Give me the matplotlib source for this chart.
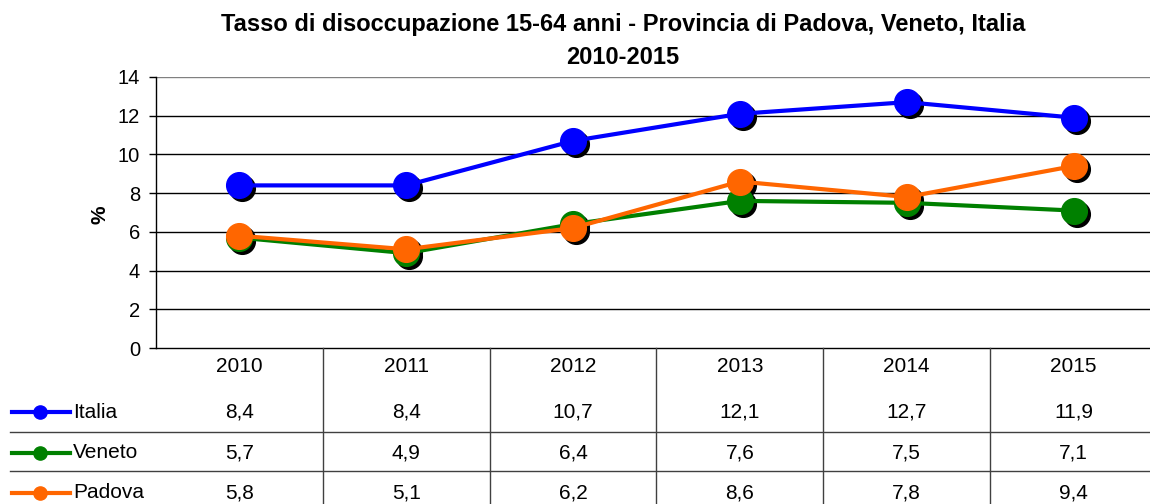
import matplotlib
matplotlib.use("Agg")
import matplotlib.pyplot as plt
import matplotlib.transforms as mtransforms
from matplotlib.lines import Line2D

plt.rcParams['font.family'] = ['Liberation Sans', 'DejaVu Sans']

years = ["2010", "2011", "2012", "2013", "2014", "2015"]
series_names = ["Italia", "Veneto", "Padova"]
italia = [8.4, 8.4, 10.7, 12.1, 12.7, 11.9]
veneto = [5.7, 4.9, 6.4, 7.6, 7.5, 7.1]
padova = [5.8, 5.1, 6.2, 8.6, 7.8, 9.4]
colors = ["#0000FF", "#008000", "#FF6600"]
title1 = "Tasso di disoccupazione 15-64 anni - Provincia di Padova, Veneto, Italia"
title2 = "2010-2015"

W, H = 1150, 504
fig = plt.figure(figsize=(W / 100, H / 100), dpi=100)

x0, x1 = 156, 1157
y_top, y_bot = 77, 348
ax = fig.add_axes([x0 / W, 1 - y_bot / H, (x1 - x0) / W, (y_bot - y_top) / H])
xs = list(range(len(years)))
ax.set_xlim(-0.5, len(years) - 0.5)
ax.set_ylim(0, 14)
ax.set_yticks(range(0, 15, 2))
ax.set_xticks([])
for y in range(2, 14, 2):
    ax.axhline(y, color="black", lw=1.0, zorder=0)
ax.axhline(14, color="#808080", lw=1.0, zorder=0)
for s in ["top", "right"]:
    ax.spines[s].set_visible(False)
ax.spines["left"].set_linewidth(1.0)
ax.spines["bottom"].set_linewidth(1.0)
ax.tick_params(axis="y", labelsize=14.5, length=5, width=1.0, pad=6.5)

fig.text(100 / W, 1 - 215 / H, "%", rotation=90, ha="center", va="center",
         fontsize=15, fontweight="bold")

shadow = mtransforms.offset_copy(ax.transData, fig=fig, x=3, y=-3, units="dots")
all_series = [italia, veneto, padova]
for vals, col in zip(all_series, colors):
    ax.plot(xs, vals, ls="none", marker="o", ms=18.5, color="black", transform=shadow, zorder=3, clip_on=False)
    ax.plot(xs, vals, ls="-", lw=3, color=col, marker="o", ms=18.5, mec=col, zorder=4, clip_on=False)

fig.text(623 / W, 1 - 24 / H, title1, ha="center", va="center", fontsize=17, fontweight="bold")
fig.text(623 / W, 1 - 57 / H, title2, ha="center", va="center", fontsize=17, fontweight="bold")

# data table
tab = fig.add_axes([x0 / W, 0, (x1 - x0) / W, 1])
tab.set_xlim(-0.5, len(years) - 0.5)
tab.set_ylim(H, 0)
tab.axis("off")
header_y = 366
row_y = [412, 453, 493]
line_y = [432, 471]
fs = 15
for i, yr in enumerate(years):
    tab.text(i, header_y, yr, ha="center", va="center", fontsize=fs)
for r, (name, vals, col) in enumerate(zip(series_names, all_series, colors)):
    for i, v in enumerate(vals):
        tab.text(i, row_y[r], f"{v:.1f}".replace(".", ","), ha="center", va="center", fontsize=fs)
pix = fig.transFigure
for r, (name, col) in enumerate(zip(series_names, colors)):
    yy = 1 - row_y[r] / H
    fig.add_artist(Line2D([12 / W, 70 / W], [yy, yy], color=col, lw=3, transform=pix))
    fig.add_artist(Line2D([40 / W], [yy], color=col, marker="o", ms=9.5, transform=pix))
    fig.text(73 / W, yy, name, ha="left", va="center", fontsize=fs)
for ly in line_y:
    fig.add_artist(Line2D([10 / W, 1.0], [1 - ly / H, 1 - ly / H], color="#404040", lw=1.0, transform=pix))
for i in range(1, len(years)):
    tab.plot([i - 0.5, i - 0.5], [y_bot, H], color="#404040", lw=1.0, clip_on=False)

fig.savefig("out.png", dpi=100)
